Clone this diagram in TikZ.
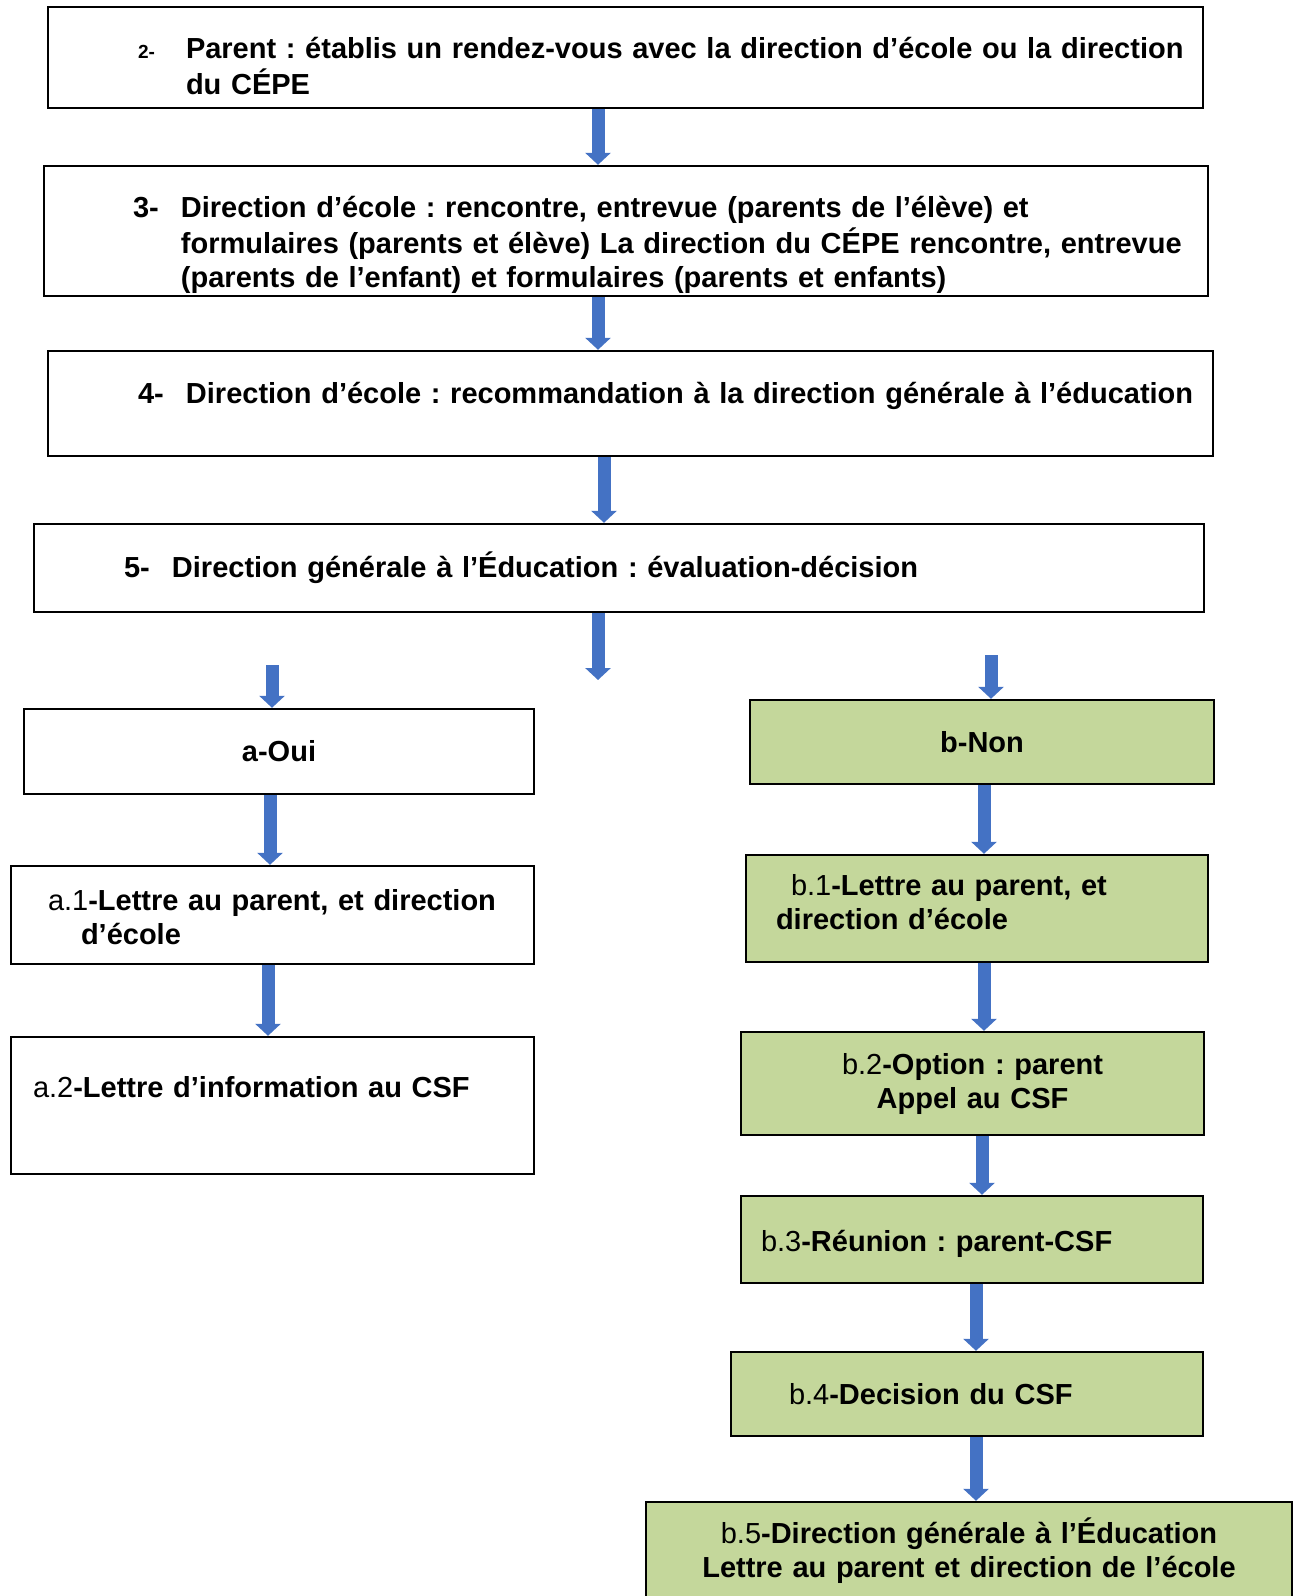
\documentclass[tikz,border=0pt]{standalone}
\usepackage{fontspec}
\setmainfont{Liberation Sans}
\usepackage{xcolor}
\usetikzlibrary{arrows.meta}
\frenchspacing

\definecolor{flowblue}{RGB}{68,114,196}
\definecolor{nongreen}{RGB}{196,215,155}
\newcommand{\lift}[2]{\raisebox{#1}[\height][\depth]{#2}}

\begin{document}
\begin{tikzpicture}[
    x=0.5pt, y=-0.5pt,
    box/.style={rectangle, draw=black, line width=1.2pt, fill=white, inner sep=0pt, align=left, font=\bfseries\fontsize{14.5}{17}\selectfont},
    nonbox/.style={box, fill=nongreen},
    arrow/.style={-{Triangle[width=12.5pt, length=6pt]}, line width=6.5pt, color=flowblue}
]
\useasboundingbox (0,0) rectangle (1294,1596);
\clip (0,0) rectangle (1294,1596);

% Nodes
\node (rdv) [box, minimum width=577.5pt, text width=577.5pt, minimum height=50.5pt] at (625.5,57.5)
  {\hspace*{45pt}\lift{-6.25pt}{\begin{tabular}{@{}p{24pt}@{}l@{}}{\fontsize{9.5}{10}\selectfont 2-} & Parent : établis un rendez-vous avec la direction d’école ou la direction\\ & du CÉPE\end{tabular}}};

\node (rencontre) [box, minimum width=582pt, text width=582pt, minimum height=65pt] at (626,231)
  {\hspace*{44.5pt}\lift{-7.5pt}{\begin{tabular}{@{}p{24pt}@{}l@{}}3- & Direction d’école : rencontre, entrevue (parents de l’élève) et\\ & formulaires (parents et élève) La direction du CÉPE rencontre, entrevue\\ & (parents de l’enfant) et formulaires (parents et enfants)\end{tabular}}};

\node (recom) [box, minimum width=582.5pt, text width=582.5pt, minimum height=52.5pt] at (630.5,403.5)
  {\hspace*{45pt}\lift{3.25pt}{\begin{tabular}{@{}p{24pt}@{}l@{}}4- & Direction d’école : recommandation à la direction générale à l’éducation\end{tabular}}};

\node (evaluation) [box, minimum width=585pt, text width=585pt, minimum height=44pt] at (619,568)
  {\hspace*{45pt}\lift{-1pt}{\begin{tabular}{@{}p{24pt}@{}l@{}}5- & Direction générale à l’Éducation : évaluation-décision\end{tabular}}};

\node (oui) [box, align=center, minimum width=255pt, text width=255pt, minimum height=42.5pt] at (279,751.5) {a-Oui};
\node (non) [nonbox, align=center, minimum width=232pt, text width=232pt, minimum height=42pt] at (982,742) {b-Non};

\node (ouilettre) [box, minimum width=261.5pt, text width=261.5pt, minimum height=49pt] at (272.5,915)
  {\hspace*{18.5pt}\lift{-3pt}{\begin{tabular}{@{}l@{}}{\mdseries a.1}-Lettre au parent, et direction\\\hspace*{16.5pt}d’école\end{tabular}}};
\node (ouicsf) [box, minimum width=261.5pt, text width=261.5pt, minimum height=68.5pt] at (272.5,1105.5)
  {\hspace*{11pt}\lift{9pt}{{\mdseries a.2}-Lettre d’information au CSF}};

\node (nonlettre) [nonbox, minimum width=231pt, text width=231pt, minimum height=53.5pt] at (977,908.5)
  {\hspace*{15pt}\lift{1.25pt}{\begin{tabular}{@{}l@{}}\hspace*{7.5pt}{\mdseries b.1}-Lettre au parent, et\\direction d’école\end{tabular}}};
\node (appel) [nonbox, align=center, minimum width=231.5pt, text width=231.5pt, minimum height=51.5pt] at (972.5,1083.5)
  {{\mdseries b.2}-Option : parent\\Appel au CSF};
\node (reunion) [nonbox, minimum width=231pt, text width=231pt, minimum height=43.5pt] at (972,1239.5)
  {\hspace*{10pt}\lift{-2pt}{{\mdseries b.3}-Réunion : parent-CSF}};
\node (decision) [nonbox, minimum width=236pt, text width=236pt, minimum height=42pt] at (967,1394)
  {\hspace*{29pt}{\mdseries b.4}-Decision du CSF};
\node (dgelettre) [nonbox, align=center, minimum width=323pt, text width=323pt, minimum height=49pt] at (969,1551)
  {{\mdseries b.5}-Direction générale à l’Éducation\\Lettre au parent et direction de l’école};

\coordinate (evalout) at (598,680);
\coordinate (ouiin) at (272,665);
\coordinate (nonin) at (991,655);

% Arrows
\draw [arrow] (598,0 |- rdv.south) -- (598,0 |- rencontre.north);
\draw [arrow] (598,0 |- rencontre.south) -- (598,0 |- recom.north);
\draw [arrow] (604,0 |- recom.south) -- (604,0 |- evaluation.north);
\draw [arrow] (598,0 |- evaluation.south) -- (evalout);
\draw [arrow] (ouiin) -- (272,0 |- oui.north);
\draw [arrow] (nonin) -- (991,0 |- non.north);
\draw [arrow] (270,0 |- oui.south) -- (270,0 |- ouilettre.north);
\draw [arrow] (268,0 |- ouilettre.south) -- (268,0 |- ouicsf.north);
\draw [arrow] (984,0 |- non.south) -- (984,0 |- nonlettre.north);
\draw [arrow] (984,0 |- nonlettre.south) -- (984,0 |- appel.north);
\draw [arrow] (982,0 |- appel.south) -- (982,0 |- reunion.north);
\draw [arrow] (976,0 |- reunion.south) -- (976,0 |- decision.north);
\draw [arrow] (976,0 |- decision.south) -- (976,0 |- dgelettre.north);

\end{tikzpicture}
\end{document}
